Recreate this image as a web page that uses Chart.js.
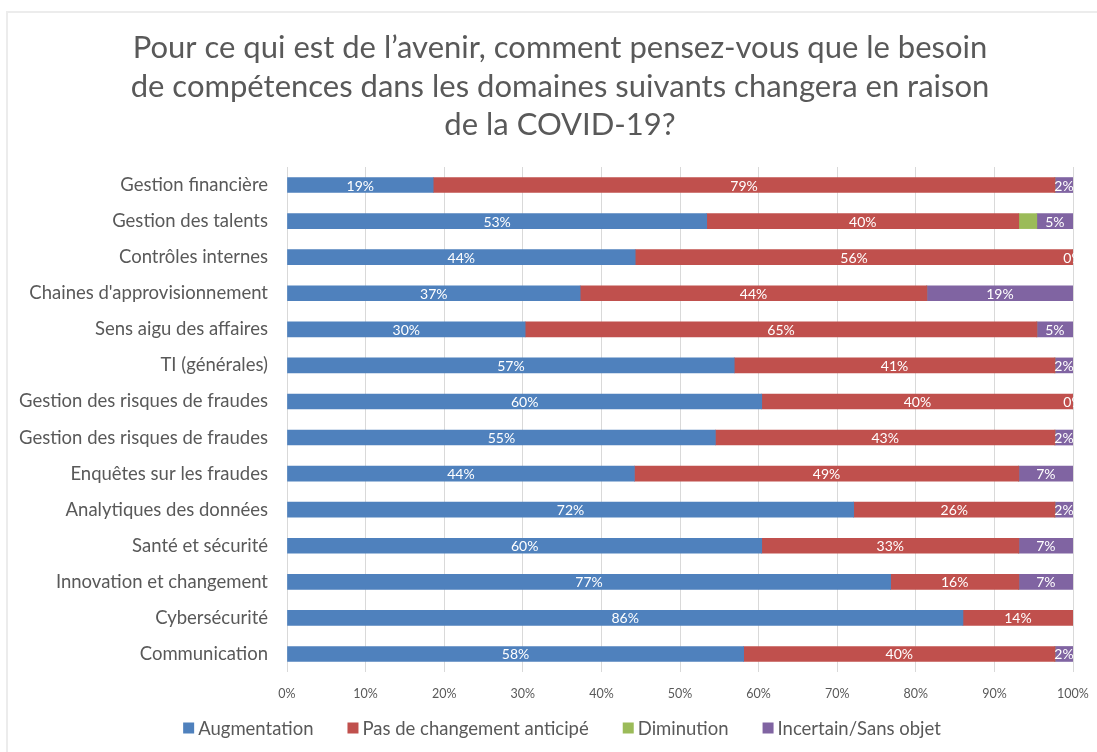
<!DOCTYPE html>
<html><head><meta charset="utf-8">
<script src="https://cdn.jsdelivr.net/npm/chart.js@4"></script>
<style>
html,body{margin:0;padding:0;background:#fff;}
#wrap{position:relative;width:1097px;height:752px;overflow:hidden;}
#frame{position:absolute;left:6px;top:11px;width:1200px;height:800px;border:2px solid #ececec;box-sizing:border-box;}
canvas{position:absolute;left:0;top:0;}
</style></head>
<body><div id="wrap"><div id="frame"></div><canvas id="c" width="1097" height="752"></canvas></div>
<script>
const categories = [
  "Gestion financière","Gestion des talents","Contrôles internes","Chaines d'approvisionnement",
  "Sens aigu des affaires","TI (générales)","Gestion des risques de fraudes","Gestion des risques de fraudes",
  "Enquêtes sur les fraudes","Analytiques des données","Santé et sécurité","Innovation et changement",
  "Cybersécurité","Communication"
];
const augmentation    = [18.6,53.4,44.3,37.3,30.3,56.9,60.4,54.5,44.2,72.1,60.4,76.8,86.0,58.1];
const pasDeChangement = [79.1,39.7,55.7,44.1,65.1,40.8,39.6,43.2,48.9,25.6,32.7,16.3,14.0,39.6];
const diminution      = [0,2.3,0,0,0,0,0,0,0,0,0,0,0,0];
const incertain       = [2.3,4.6,0,18.6,4.6,2.3,0,2.3,6.9,2.3,6.9,6.9,null,2.3];
const seriesNames = ["Augmentation","Pas de changement anticipé","Diminution","Incertain/Sans objet"];
const seriesColors = ["#4f81bd","#c0504d","#9bbb59","#8064a2"];
const showSeriesLabels = [true,true,false,true];
const xTickValues = [0,10,20,30,40,50,60,70,80,90,100];
const titleLines = [
  "Pour ce qui est de l’avenir, comment pensez-vous que le besoin",
  "de compétences dans les domaines suivants changera en raison",
  "de la COVID-19?"
];

const FONT = "Lato, 'Open Sans', sans-serif";
const TEXT = "#595959";

const segLabels = {
  id: 'segLabels',
  afterDatasetsDraw(chart) {
    const ctx = chart.ctx, a = chart.chartArea;
    ctx.save();
    ctx.beginPath();
    ctx.rect(a.left, a.top - 20, a.right - a.left + 2, a.bottom - a.top + 40);
    ctx.clip();
    ctx.font = "14px " + FONT;
    ctx.fillStyle = "#ffffff";
    ctx.textAlign = "center";
    ctx.textBaseline = "middle";
    chart.data.datasets.forEach((ds, di) => {
      if (!showSeriesLabels[di]) return;
      const meta = chart.getDatasetMeta(di);
      meta.data.forEach((bar, i) => {
        const v = ds.data[i];
        if (v === null || v === undefined) return;
        ctx.fillText(Math.round(v) + "%", (bar.x + bar.base) / 2, bar.y + 1);
      });
    });
    ctx.restore();
  }
};

const titleAndLegend = {
  id: 'titleAndLegend',
  afterDraw(chart) {
    const ctx = chart.ctx;
    ctx.save();
    // title
    ctx.font = "31px " + FONT;
    ctx.fillStyle = TEXT;
    ctx.textAlign = "center";
    ctx.textBaseline = "middle";
    titleLines.forEach((t, i) => ctx.fillText(t, 560, 48 + i * 38.5));
    // legend
    ctx.font = "18.5px " + FONT;
    const box = 11, gap = 4, spacing = 34;
    const widths = seriesNames.map(n => box + gap + ctx.measureText(n).width);
    const total = widths.reduce((s, w) => s + w, 0) + spacing * (seriesNames.length - 1);
    let x = 562 - total / 2;
    const y = 728;
    seriesNames.forEach((n, i) => {
      ctx.fillStyle = seriesColors[i];
      ctx.fillRect(x, y - box / 2, box, box);
      ctx.fillStyle = TEXT;
      ctx.textAlign = "left";
      ctx.fillText(n, x + box + gap, y + 1);
      x += widths[i] + spacing;
    });
    ctx.restore();
  }
};

const seriesData = [augmentation, pasDeChangement, diminution, incertain];

new Chart(document.getElementById('c'), {
  type: 'bar',
  data: {
    labels: categories,
    datasets: seriesNames.map((n, i) => ({
      label: n,
      data: seriesData[i],
      backgroundColor: seriesColors[i],
      borderWidth: 0,
      barThickness: 15
    }))
  },
  options: {
    indexAxis: 'y',
    responsive: false,
    animation: false,
    layout: { padding: { left: 0, right: 24, top: 167, bottom: 40 } },
    plugins: {
      legend: { display: false },
      tooltip: { enabled: false },
      title: { display: false }
    },
    scales: {
      x: {
        stacked: true,
        min: 0, max: 100,
        afterBuildTicks(scale) { scale.ticks = xTickValues.map(v => ({ value: v })); },
        afterFit(scale) { scale.height = 40; scale.paddingRight = 0; scale.paddingLeft = 0; },
        ticks: {
          color: TEXT,
          font: { family: FONT, size: 12.5 },
          padding: 14,
          callback: v => v + "%"
        },
        grid: { color: "#d9d9d9", lineWidth: 1, drawTicks: false },
        border: { display: false }
      },
      y: {
        stacked: true,
        afterFit(scale) { scale.width = 287; scale.paddingTop = 0; scale.paddingBottom = 0; },
        ticks: {
          color: TEXT,
          font: { family: FONT, size: 18.5 },
          padding: 11
        },
        grid: { display: false },
        border: { display: false }
      }
    }
  },
  plugins: [segLabels, titleAndLegend]
});
</script>
</body></html>
